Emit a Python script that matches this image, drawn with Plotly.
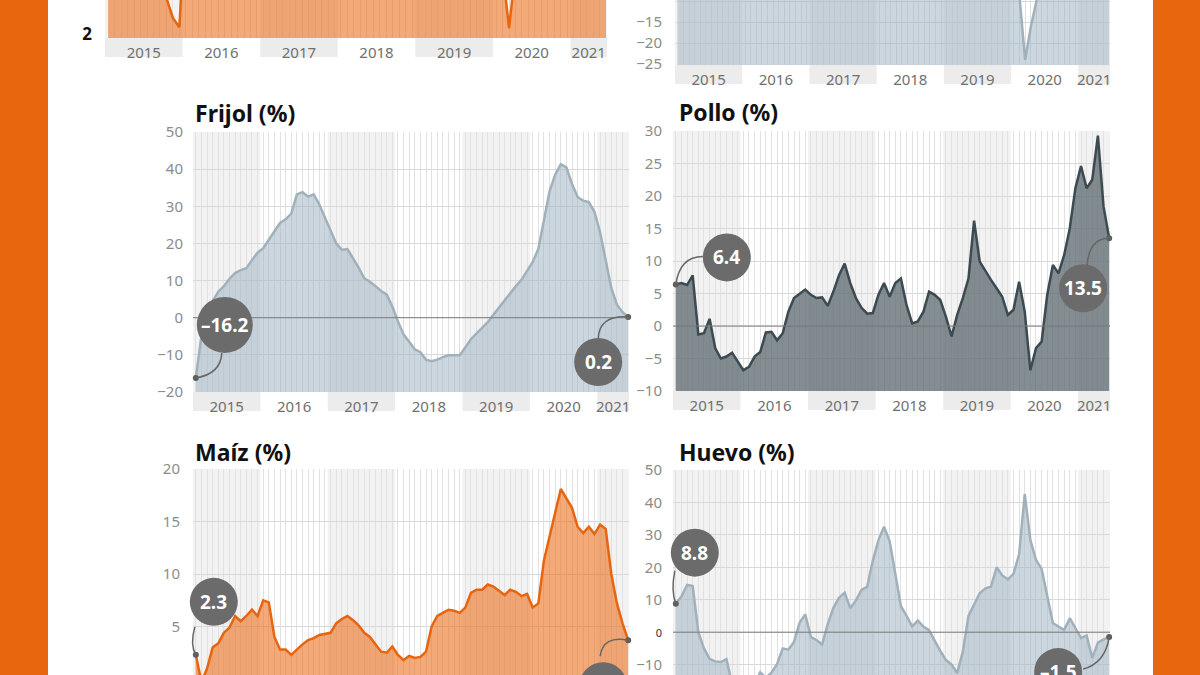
import plotly.graph_objects as go

W, H = 1200, 675
FONT = "Noto Sans"

# ---------------- data ----------------
years = ["2015", "2016", "2017", "2018", "2019", "2020", "2021"]
months = list(range(78))  # enero 2015 ... junio 2021 (month index)

top_left = [4.2, 4.0, 3.8, 3.9, 3.7, 3.6, 3.5, 3.4, 3.2, 2.9,
            2.4, 2.17, 5.0, 4.6, 4.3, 4.1, 4.0, 4.2, 4.5, 4.8,
            5.0, 5.2, 5.4, 5.3, 5.1, 5.0, 4.8, 4.6, 4.4, 4.3,
            4.2, 4.1, 4.0, 3.9, 3.8, 3.9, 4.0, 4.1, 4.3, 4.4,
            4.6, 4.5, 4.4, 4.3, 4.2, 4.1, 4.0, 3.9, 3.8, 3.7,
            3.8, 3.9, 4.0, 4.1, 4.2, 4.0, 3.9, 3.8, 3.7, 3.7,
            3.6, 3.6, 2.15, 3.6, 3.8, 4.0, 4.3, 4.6, 4.9, 5.2,
            5.5, 5.8, 6.0, 6.1, 6.0, 5.9, 5.8, 5.7]

top_right = [3.5, 3.2, 3.0, 2.8, 2.6, 2.9, 3.1, 3.4, 3.6, 3.3,
             3.0, 2.7, 2.5, 2.8, 3.2, 3.6, 4.0, 4.3, 4.6, 4.8,
             5.0, 5.2, 5.5, 5.8, 6.0, 6.3, 6.5, 6.4, 6.2, 6.0,
             5.8, 5.6, 5.3, 5.0, 4.8, 4.5, 4.3, 4.0, 3.8, 3.6,
             3.5, 3.4, 3.3, 3.2, 3.1, 3.0, 2.9, 2.8, 2.7, 2.6,
             2.5, 2.4, 2.6, 2.8, 3.0, 3.2, 3.4, 3.0, 2.0, 0.5,
             -2.0, -9.0, -24.0, -16.2, -8.5, -4.0, -1.0, 1.0, 2.5, 3.5,
             4.5, 5.5, 6.5, 7.0, 7.5, 7.8, 8.0, 8.2]

frijol = [-16.2, -5, 1, 4.5, 7, 8.5, 10.5, 12, 12.8, 13.3,
          15.5, 17.5, 18.7, 21, 23.5, 25.5, 26.5, 28, 33.2, 33.8,
          32.6, 33.2, 30.5, 27, 23.5, 20, 18.3, 18.5, 16, 13.5,
          10.6, 9.7, 8.5, 7.2, 6.2, 3, -1, -4.5, -6.5, -8.5,
          -9.3, -11.3, -11.7, -11.3, -10.6, -10.1, -10.1, -10.1, -8, -5.8,
          -4.2, -2.8, -1.2, 0.8, 2.8, 4.8, 6.7, 8.5, 10.2, 12.7,
          15, 18.5, 26, 34, 38.5, 41.3, 40.5, 36, 32.5, 31.5,
          31.1, 28.5, 23, 15, 8, 3.5, 1.5, 0.2]

pollo = [6.4, 6.6, 6.3, 7.8, -1.3, -1.1, 1.1, -3.4, -5, -4.7,
         -4.1, -5.5, -6.8, -6.3, -4.7, -4, -1, -0.9, -2.2, -1.1,
         2.2, 4.3, 5, 5.6, 4.8, 4.3, 4.4, 3.1, 5.3, 7.8,
         9.6, 6.6, 4.3, 2.8, 1.9, 2, 4.8, 6.6, 4.5, 6.6,
         7.3, 3.2, 0.4, 0.7, 2.2, 5.3, 4.8, 4, 1.4, -1.6,
         1.7, 4.3, 7.3, 16.2, 9.9, 8.4, 7.1, 5.8, 4.5, 1.7,
         2.5, 6.8, 2.2, -6.8, -3.4, -2.4, 4.8, 9.4, 8.1, 10.9,
         15, 21.2, 24.6, 21.2, 22.5, 29.3, 18.4, 13.5]

maiz = [2.3, -0.3, 1.0, 3.0, 3.4, 4.4, 4.9, 6.0, 5.5, 6.0,
        6.6, 6.0, 7.5, 7.3, 4.0, 2.8, 2.8, 2.3, 2.8, 3.3,
        3.7, 3.9, 4.2, 4.3, 4.4, 5.3, 5.7, 6.0, 5.6, 5.1,
        4.4, 4.0, 3.3, 2.6, 2.5, 3.1, 2.3, 1.8, 2.2, 2.0,
        2.1, 2.6, 5.0, 6.0, 6.3, 6.6, 6.5, 6.3, 6.8, 8.2,
        8.5, 8.5, 9.0, 8.8, 8.4, 8.0, 8.5, 8.3, 7.9, 8.1,
        6.8, 7.2, 11.3, 13.6, 15.8, 18.1, 17.2, 16.3, 14.5, 13.9,
        14.5, 13.8, 14.7, 14.3, 10.0, 7.2, 5.3, 3.7]

huevo = [8.8, 11, 14.6, 14.2, 0, -5, -8.2, -9, -9.2, -8.3,
         -16, -20, -21, -19, -16, -12.4, -14, -12.5, -9.8, -5,
         -5.4, -3, 3, 5.5, -1.5, -2.4, -3.8, 2.5, 7.5, 10.6,
         12.2, 7.4, 9.8, 13, 14, 22, 28.4, 32.5, 28, 18,
         8, 5, 1.8, 3.6, 1.7, 0.6, -2.8, -5.8, -8.6, -10,
         -12.6, -6, 5, 8.5, 12, 13.5, 14, 20, 17.5, 16.3,
         18, 24, 42.6, 28.4, 22.3, 19.5, 11.5, 2.8, 1.7, 0.7,
         4.3, 1.2, -1.8, -1, -8, -3.2, -2.2, -1.5]

top_left_ticks = [2]
top_right_ticks = [-25, -20, -15, -10]
frijol_ticks = [-20, -10, 0, 10, 20, 30, 40, 50]
pollo_ticks = [-10, -5, 0, 5, 10, 15, 20, 25, 30]
maiz_ticks = [0, 5, 10, 15, 20]
huevo_ticks = [-10, 0, 10, 20, 30, 40, 50]

titles = ["Frijol (%)", "Pollo (%)", "Maíz (%)", "Huevo (%)"]

# ---------------- styling ----------------
ORANGE_BG = "#E8660E"
BLUE = dict(line="#a1b1bc", fill="rgba(160,180,195,0.55)")
DARK = dict(line="#3c4a51", fill="rgba(92,105,112,0.76)")
ORNG = dict(line="#e8650f", fill="rgba(236,112,32,0.6)")


def fx(px):
    return px / W


def fy(py):
    return 1 - py / H


XR = [-0.5, 77.15]
bounds = [-0.5, 11.5, 23.5, 35.5, 47.5, 59.5, 71.5, 77.15]
centers = [(a + b) / 2 for a, b in zip(bounds[:-1], bounds[1:])]

ytick_font = dict(size=15, color="#8c8c8c", family=FONT)


def fmt_ticks(vals):
    return [("−" + str(abs(v))) if v < 0 else str(v) for v in vals]


huevo_text = [("<span style='font-size:11px;color:#333'>0</span>" if v == 0 else t)
              for v, t in zip(huevo_ticks, fmt_ticks(huevo_ticks))]

panels = [
    dict(key="", y=top_left, st=ORNG, xpx=(105, 607), ypx=(0, 38), yr=[1.9, 2.85], base=0,
         tv=top_left_ticks, tt=fmt_ticks(top_left_ticks),
         tf=dict(size=17, color="#111111", family=FONT, weight="bold"), grid=False, zero=False, sep=12),
    dict(key="2", y=top_right, st=BLUE, xpx=(675, 1110), ypx=(0, 65), yr=[-25.2, -9.7], base=-40,
         tv=top_right_ticks, tt=fmt_ticks(top_right_ticks), tf=ytick_font, grid=True, zero=False, sep=12),
    dict(key="3", y=frijol, st=BLUE, xpx=(193, 629), ypx=(132, 392), yr=[-20, 50], base=-20,
         tv=frijol_ticks, tt=fmt_ticks(frijol_ticks), tf=ytick_font, grid=True, zero=True, sep=9),
    dict(key="4", y=pollo, st=DARK, xpx=(673, 1110), ypx=(131, 391), yr=[-10, 30], base=-10,
         tv=pollo_ticks, tt=fmt_ticks(pollo_ticks), tf=ytick_font, grid=True, zero=True, sep=10),
    dict(key="5", y=maiz, st=ORNG, xpx=(193, 629), ypx=(469, 675), yr=[20 - 206 / 10.5, 20], base=-5,
         tv=maiz_ticks, tt=fmt_ticks(maiz_ticks), tf=ytick_font, grid=True, zero=True, sep=12),
    dict(key="6", y=huevo, st=BLUE, xpx=(673, 1110), ypx=(470, 675), yr=[-13.2, 50], base=-30,
         tv=huevo_ticks, tt=huevo_text, tf=ytick_font, grid=True, zero=True, sep=10),
]

fig = go.Figure()
layout_axes = {}
shapes = [dict(type="rect", xref="paper", yref="paper", x0=fx(48), x1=fx(1153), y0=0, y1=1,
               fillcolor="white", line=dict(width=0), layer="below")]

for p in panels:
    k = p["key"]
    xa, ya = "x" + k, "y" + k
    fig.add_trace(go.Scatter(x=months, y=[p["base"]] * len(months), mode="lines",
                             line=dict(width=0, color="rgba(0,0,0,0)"), xaxis=xa, yaxis=ya,
                             hoverinfo="skip", showlegend=False))
    fig.add_trace(go.Scatter(x=months, y=p["y"], mode="lines", fill="tonexty",
                             fillcolor=p["st"]["fill"], line=dict(color=p["st"]["line"], width=2.5),
                             xaxis=xa, yaxis=ya, showlegend=False))
    x0, x1 = p["xpx"]
    yt, yb = p["ypx"]
    layout_axes["xaxis" + k] = dict(
        domain=[fx(x0), fx(x1)], range=XR, anchor=ya, tickmode="array", tickvals=centers,
        ticktext=years, showticklabels=yb < H, showgrid=False, zeroline=False, showline=False,
        ticks="", tickfont=dict(size=15, color="#707070", family=FONT), ticklabelstandoff=4,
        minor=dict(tickmode="linear", tick0=0, dtick=1, showgrid=True, gridcolor="#e1e1e1",
                   gridwidth=1, ticks=""),
        automargin=False, fixedrange=True)
    layout_axes["yaxis" + k] = dict(
        domain=[fy(yb), fy(yt)], range=p["yr"], anchor=xa, tickmode="array", tickvals=p["tv"],
        ticktext=p["tt"], showgrid=p["grid"], gridcolor="#d9d9d9", gridwidth=1, zeroline=False,
        showline=False, ticks="", tickfont=p["tf"], ticklabelstandoff=p["sep"],
        automargin=False, fixedrange=True)
    xd = "x domain" if k == "" else "x" + k + " domain"
    yd = "y domain" if k == "" else "y" + k + " domain"
    for a, b in zip(bounds[0::2], bounds[1::2]):
        shapes.append(dict(type="rect", xref=xa, yref=yd, x0=a, x1=b, y0=0, y1=1,
                           fillcolor="#f2f2f2", line=dict(width=0), layer="below"))
        if yb < H:
            shapes.append(dict(type="rect", xref=xa, yref="paper", x0=a, x1=b,
                               y0=fy(yb + 19), y1=fy(yb), fillcolor="#ececec",
                               line=dict(width=0), layer="below"))
    if p["zero"] and p["yr"][0] < 0 < p["yr"][1]:
        shapes.append(dict(type="line", xref=xd, yref=ya, x0=0, x1=1, y0=0, y1=0,
                           line=dict(color="#7a7a7a", width=1), layer="above"))
    # end-point dots
    fig.add_trace(go.Scatter(x=[months[0], months[-1]], y=[p["y"][0], p["y"][-1]], mode="markers",
                             marker=dict(size=6, color="#5e5e5e"), cliponaxis=False,
                             xaxis=xa, yaxis=ya, showlegend=False, hoverinfo="skip"))


def anchor(p, i):
    x0, x1 = p["xpx"]
    yt, yb = p["ypx"]
    ax = fx(x0) + (months[i] - XR[0]) / (XR[1] - XR[0]) * (fx(x1) - fx(x0))
    v = p["y"][i]
    ay = fy(yb) + (v - p["yr"][0]) / (p["yr"][1] - p["yr"][0]) * (fy(yt) - fy(yb))
    return ax, ay


# (panel, point index, circle offset px, radius, connector start, control point)
callouts = [
    (2, 0, (29, 53), 28, (26, 25), (25, 4)),
    (2, 77, (-30, -45), 24, (-30, -23), (-30, 2)),
    (3, 0, (51, 27), 24, (27, 28), (4, 28)),
    (3, 77, (-26, -50), 24, (-22, -27), (-20, 0)),
    (4, 0, (18, 53), 24, (-1, 28), (-6, 10)),
    (4, 77, (-25, -46), 24, (-28, -16), (-25, 5)),
    (5, 0, (19, 51), 24, (-1, 33), (-5, 12)),
    (5, 77, (-51, -35), 24, (-26, -32), (-4, -26)),
]

annotations = []
for pi, i, (dx, dy), r, (sx, sy), (cx, cy) in callouts:
    p = panels[pi]
    ax, ay = anchor(p, i)
    shapes.append(dict(type="path", xref="paper", yref="paper", xsizemode="pixel",
                       ysizemode="pixel", xanchor=ax, yanchor=ay,
                       path=f"M{sx},{sy} Q{cx},{cy} 0,0",
                       line=dict(color="#666666", width=1.5), layer="above"))
    shapes.append(dict(type="circle", xref="paper", yref="paper", xsizemode="pixel",
                       ysizemode="pixel", xanchor=ax, yanchor=ay,
                       x0=dx - r, x1=dx + r, y0=dy - r, y1=dy + r,
                       fillcolor="#6b6b6b", line=dict(width=0), layer="above"))
    v = p["y"][i]
    label = ("–" if v < 0 else "") + f"{abs(v):.1f}"
    annotations.append(dict(xref="paper", yref="paper", x=ax, y=ay, xshift=dx, yshift=dy,
                            xanchor="center", yanchor="middle",
                            text=f"<b>{label}</b>", showarrow=False,
                            font=dict(size=19, color="white", family=FONT)))

title_pos = [(193, 113), (677, 112), (193, 452), (677, 452)]
for t, (tx, ty) in zip(titles, title_pos):
    annotations.append(dict(xref="paper", yref="paper", x=fx(tx), y=fy(ty), xanchor="left",
                            yanchor="middle", text=f"<b>{t}</b>", showarrow=False,
                            font=dict(size=23, color="#111111", family=FONT)))

fig.update_layout(
    width=W, height=H, margin=dict(l=0, r=0, t=0, b=0, pad=0, autoexpand=False),
    paper_bgcolor=ORANGE_BG, plot_bgcolor="rgba(0,0,0,0)",
    showlegend=False, shapes=shapes, annotations=annotations,
    font=dict(family=FONT), **layout_axes)

fig.write_html("out.html", config={"displayModeBar": False},
               post_script="document.body.style.margin='0';document.body.style.overflow='hidden';")
